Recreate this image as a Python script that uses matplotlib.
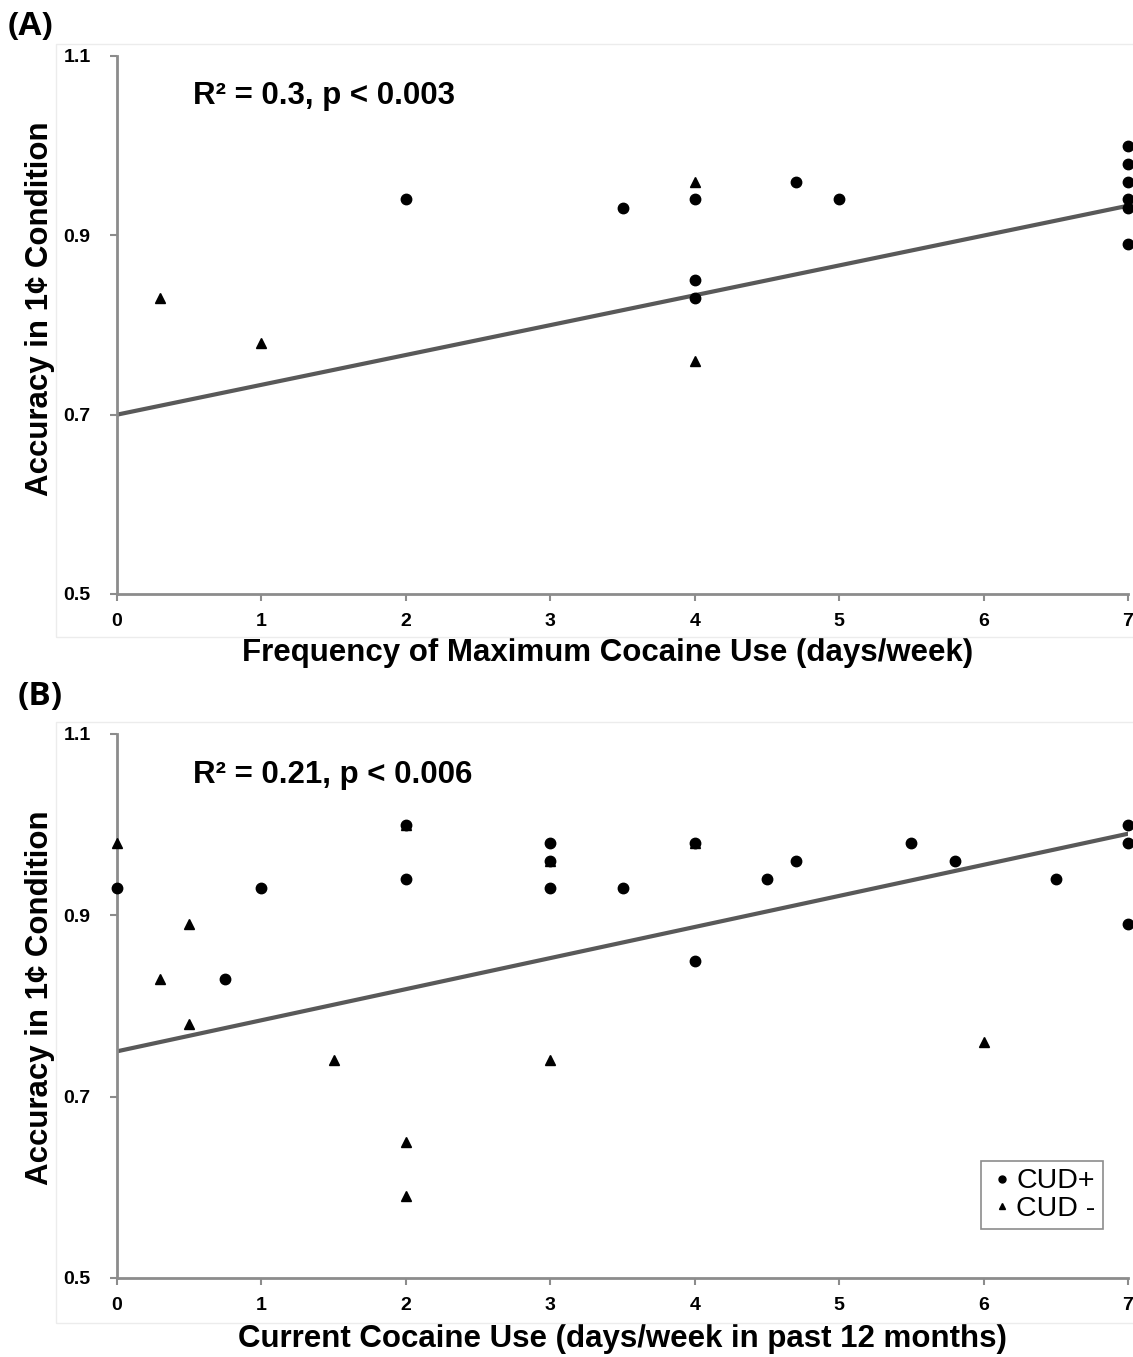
import matplotlib
matplotlib.use("Agg")
import matplotlib.pyplot as plt
from matplotlib.lines import Line2D
from matplotlib.patches import Rectangle

plt.rcParams['font.family'] = ['Liberation Sans', 'DejaVu Sans']

# panel A: frequency of maximum cocaine use
a_pos_x = [2, 3.5, 4, 4, 4, 4.7, 5, 7, 7, 7, 7, 7, 7]
a_pos_y = [0.94, 0.93, 0.94, 0.85, 0.83, 0.96, 0.94, 1.0, 0.98, 0.96, 0.94, 0.93, 0.89]
a_neg_x = [0.3, 1, 4, 4]
a_neg_y = [0.83, 0.78, 0.96, 0.76]
a_fit = [0.70, 0.933]
a_note = "R\u00b2 = 0.3, p < 0.003"

# panel B: current cocaine use
b_pos_x = [0, 0.75, 1, 2, 2, 3, 3, 3, 3.5, 4, 4, 4.5, 4.7, 5.5, 5.8, 6.5, 7, 7, 7]
b_pos_y = [0.93, 0.83, 0.93, 1.0, 0.94, 0.98, 0.96, 0.93, 0.93, 0.98, 0.85, 0.94, 0.96, 0.98, 0.96, 0.94, 1.0, 0.98, 0.89]
b_neg_x = [0, 0.3, 0.5, 0.5, 1.5, 2, 2, 2, 3, 3, 4, 6]
b_neg_y = [0.98, 0.83, 0.89, 0.78, 0.74, 1.0, 0.65, 0.59, 0.96, 0.74, 0.98, 0.76]
b_fit = [0.75, 0.99]
b_note = "R\u00b2 = 0.21, p < 0.006"

xticks = [0, 1, 2, 3, 4, 5, 6, 7]
yticks = [0.5, 0.7, 0.9, 1.1]
ylabels = ['0.5', '0.7', '0.9', '1.1']

W, H = 1133, 1357
fig = plt.figure(figsize=(W / 100, H / 100), dpi=100)

axc = '#8c8c8c'


def panel(rect, box, px, py, nx, ny, fit, note, xlabel, xl_pos, yl_y, tag, tag_xy,
          legend=False):
    # faint chart-area border like the spreadsheet export
    fig.patches.append(Rectangle((box[0] / W, 1 - box[3] / H), (box[2] - box[0]) / W,
                                 (box[3] - box[1]) / H, transform=fig.transFigure,
                                 fill=False, edgecolor='#ececec', lw=1, zorder=0))
    ax = fig.add_axes(rect)
    ax.patch.set_alpha(0)
    ax.plot(nx, ny, '^', color='black', ms=7.5, ls='none', zorder=3, clip_on=False)
    ax.plot(px, py, 'o', color='black', ms=7.5, ls='none', zorder=3, clip_on=False)
    ax.plot([0, 7], fit, color='#595959', lw=3, zorder=2)
    ax.set_xlim(0, 7)
    ax.set_ylim(0.5, 1.1)
    ax.set_xticks(xticks)
    ax.set_yticks(yticks)
    ax.set_yticklabels(ylabels)
    for s in ['top', 'right']:
        ax.spines[s].set_visible(False)
    for s in ['left', 'bottom']:
        ax.spines[s].set_color(axc)
        ax.spines[s].set_linewidth(2)
    ax.tick_params(colors=axc, width=1.5, length=5, labelcolor='black',
                   labelsize=14)
    ax.tick_params(axis='x', pad=9)
    ax.tick_params(axis='y', pad=14)
    for t in ax.get_xticklabels() + ax.get_yticklabels():
        t.set_fontweight('bold')
    ax.set_xlabel(xlabel, fontsize=22.5, fontweight='bold')
    ax.xaxis.set_label_coords(*xl_pos)
    ax.xaxis.label.set_va('center')
    ax.set_ylabel("Accuracy in 1\u00a2 Condition", fontsize=22.5, fontweight='bold')
    ax.yaxis.set_label_coords(-0.076, yl_y)
    ax.yaxis.label.set_va('center')
    ax.text(0.075, 0.925, note, transform=ax.transAxes, fontsize=22.5,
            fontweight='bold', va='center')
    fig.text(tag_xy[0] / W, 1 - tag_xy[1] / H, tag, fontsize=24, va='center',
             fontweight='bold', family=['Open Sans', 'DejaVu Sans'])
    if legend:
        handles = [Line2D([], [], marker='o', color='black', ls='none', ms=5),
                   Line2D([], [], marker='^', color='black', ls='none', ms=5)]
        leg = ax.legend(handles, ['CUD+', 'CUD -'], loc='lower right',
                        bbox_to_anchor=(0.975, 0.09), fontsize=20.5,
                        fancybox=False, edgecolor=axc, framealpha=1,
                        handletextpad=0.0, handlelength=1.0,
                        borderpad=0.25, labelspacing=0.05, borderaxespad=0)
        leg.get_frame().set_linewidth(1.2)
    return ax


panel([117 / W, 1 - 594 / H, 1011 / W, 538 / H], (56, 44, 1140, 637),
      a_pos_x, a_pos_y, a_neg_x, a_neg_y, a_fit, a_note,
      "Frequency of Maximum Cocaine Use (days/week)", (0.485, -0.11), 0.53,
      "(A)", (8, 27))
panel([117 / W, 1 - 1278 / H, 1011 / W, 544 / H], (56, 722, 1140, 1323),
      b_pos_x, b_pos_y, b_neg_x, b_neg_y, b_fit, b_note,
      "Current Cocaine Use (days/week in past 12 months)", (0.5, -0.112), 0.515,
      "(B)", (18, 696), legend=True)

fig.savefig("out.png", dpi=100)
